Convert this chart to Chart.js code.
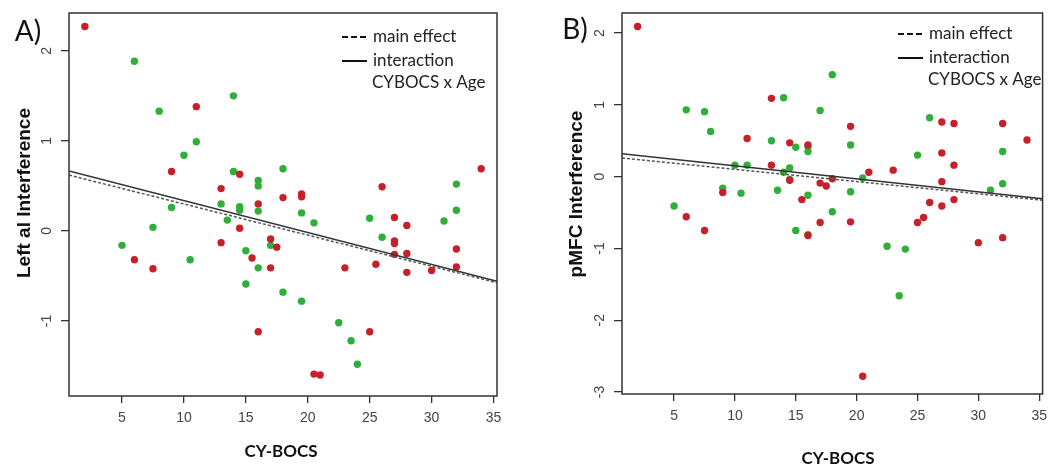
<!DOCTYPE html>
<html>
<head>
<meta charset="utf-8">
<script src="https://cdn.jsdelivr.net/npm/chart.js@4.4.1/dist/chart.umd.min.js"></script>
<style>
  html, body { margin: 0; padding: 0; background: #fff; }
  #wrap { position: relative; width: 1054px; height: 470px; }
  .panel { position: absolute; top: 0; width: 527px; height: 470px; }
</style>
</head>
<body>
<div id="wrap">
  <div class="panel" style="left:0"><canvas id="chartA"></canvas></div>
  <div class="panel" style="left:527px"><canvas id="chartB"></canvas></div>
</div>
<script>
// CY-BOCS axis (R pads the 2..34 data range by 4%)
const xRange = [0.72, 35.28];
const xTicks = [5, 10, 15, 20, 25, 30, 35];

// Panel A: Left al Interference
const aRange   = [-1.833, 2.42];
const aTicks   = [-1, 0, 1, 2];
const aRedX    = [2, 11, 9, 14.5, 13, 16, 14.5, 13, 6, 7.5, 15.5, 16, 17, 17.5, 17, 20.5, 21, 25, 23, 25.5, 27, 27, 27, 28, 28, 30, 32, 32, 18, 19.5, 19.5, 26, 27, 28, 34];
const aRedY    = [2.27, 1.38, 0.66, 0.63, 0.47, 0.30, 0.03, -0.13, -0.32, -0.42, -0.30, -1.12, -0.09, -0.18, -0.41, -1.59, -1.60, -1.12, -0.41, -0.37, -0.11, -0.14, -0.26, -0.25, -0.46, -0.44, -0.20, -0.40, 0.37, 0.41, 0.38, 0.49, 0.15, 0.06, 0.69];
const aGreenX  = [6, 8, 14, 11, 10, 14, 16, 16, 13, 9, 14.5, 14.5, 16, 13.5, 7.5, 5, 10.5, 15, 16, 15, 17, 18, 19.5, 22.5, 23.5, 24, 26, 18, 19.5, 20.5, 25, 32, 32, 31];
const aGreenY  = [1.885, 1.33, 1.50, 0.99, 0.84, 0.66, 0.56, 0.50, 0.30, 0.26, 0.27, 0.23, 0.22, 0.12, 0.04, -0.16, -0.32, -0.22, -0.41, -0.59, -0.16, -0.68, -0.78, -1.02, -1.22, -1.48, -0.07, 0.69, 0.20, 0.09, 0.14, 0.52, 0.23, 0.11];
const aMainY   = [0.62, -0.575];   // main effect line, at the x range ends
const aInterY  = [0.667, -0.56];   // interaction line

// Panel B: pMFC Interference
const bRange   = [-3.028, 2.279];
const bTicks   = [-3, -2, -1, 0, 1, 2];
const bRedX    = [2, 13, 11, 14.5, 13, 14.5, 9, 6, 7.5, 19.5, 16, 17, 17.5, 18, 15.5, 21, 17, 19.5, 16, 23, 27, 28, 27, 28, 27, 26, 27, 28, 25, 25.5, 32, 34, 32, 20.5, 30];
const bRedY    = [2.09, 1.09, 0.53, 0.47, 0.16, -0.05, -0.22, -0.56, -0.75, 0.70, 0.44, -0.09, -0.13, -0.03, -0.32, 0.06, -0.64, -0.63, -0.82, 0.09, 0.76, 0.74, 0.33, 0.16, -0.07, -0.36, -0.41, -0.32, -0.64, -0.57, 0.74, 0.51, -0.85, -2.78, -0.92];
const bGreenX  = [6, 7.5, 8, 14, 13, 15, 10, 11, 14.5, 14, 9, 10.5, 13.5, 5, 15, 18, 17, 19.5, 16, 16, 19.5, 20.5, 18, 25, 26, 31, 32, 32, 22.5, 24, 23.5, 14.5, 16, 16];
const bGreenY  = [0.93, 0.905, 0.63, 1.10, 0.50, 0.41, 0.16, 0.16, 0.12, 0.06, -0.16, -0.23, -0.19, -0.41, -0.75, 1.42, 0.92, 0.44, 0.35, -0.26, -0.21, -0.02, -0.49, 0.30, 0.82, -0.19, -0.10, 0.35, -0.97, -1.01, -1.66, -0.04, -0.81, 0.42];
const bMainY   = [0.26, -0.33];
const bInterY  = [0.32, -0.31];

const RED   = '#c8202a';
const GREEN = '#2fae3a';
const zip = (xs, ys) => xs.map((x, i) => ({ x, y: ys[i] }));

// box, rotated y tick labels, titles and the hand-made legend
const panelDecor = {
  id: 'panelDecor',
  afterDatasetsDraw(chart, args, o) {
    const { ctx, chartArea: a, scales: { y } } = chart;
    ctx.save();

    ctx.strokeStyle = '#333';
    ctx.lineWidth = 1.5;
    ctx.strokeRect(a.left, a.top, a.right - a.left, a.bottom - a.top);

    ctx.fillStyle = '#444';
    ctx.font = '14px "Liberation Sans", Arial, sans-serif';
    ctx.textAlign = 'center';
    ctx.textBaseline = 'middle';
    y.ticks.forEach(t => {
      ctx.save();
      ctx.translate(a.left - 22, y.getPixelForValue(t.value));
      ctx.rotate(-Math.PI / 2);
      ctx.fillText(String(t.value), 0, 0);
      ctx.restore();
    });

    // y title
    ctx.fillStyle = '#111';
    ctx.font = 'bold 19px "Liberation Sans", Arial, sans-serif';
    ctx.save();
    ctx.translate(o.yTitle[0], o.yTitle[1]);
    ctx.rotate(-Math.PI / 2);
    ctx.fillText(o.yTitleText, 0, 0);
    ctx.restore();

    // x title
    ctx.font = 'bold 17px Lato, "Open Sans", sans-serif';
    ctx.fillText('CY-BOCS', o.xTitle[0], o.xTitle[1]);

    // panel letter
    ctx.font = '28px Lato, "Open Sans", sans-serif';
    ctx.fillText(o.letter, o.letterPos[0], o.letterPos[1]);

    // legend
    const [lx, ly] = o.legend;
    ctx.strokeStyle = '#111';
    ctx.lineWidth = 2;
    ctx.setLineDash([6, 3]);
    ctx.beginPath(); ctx.moveTo(lx, ly); ctx.lineTo(lx + 26, ly); ctx.stroke();
    ctx.setLineDash([]);
    ctx.beginPath(); ctx.moveTo(lx, ly + 24); ctx.lineTo(lx + 25, ly + 24); ctx.stroke();
    ctx.fillStyle = '#222';
    ctx.font = '17px Lato, "Open Sans", sans-serif';
    ctx.textAlign = 'left';
    ctx.fillText('main effect', lx + 31, ly);
    ctx.fillText('interaction', lx + 31, ly + 24);
    ctx.fillText('CYBOCS x Age', lx + 30, ly + 46);

    ctx.restore();
  }
};

function makePanel(id, p) {
  return new Chart(document.getElementById(id), {
    type: 'scatter',
    data: {
      datasets: [
        {
          type: 'line', data: zip(xRange, p.interY), order: 0,
          borderColor: '#333', borderWidth: 1.5, pointRadius: 0, showLine: true,
        },
        {
          type: 'line', data: zip(xRange, p.mainY), order: 0,
          borderColor: '#555', borderWidth: 1.5, borderDash: [3, 2], pointRadius: 0, showLine: true,
        },
        {
          data: zip(p.redX, p.redY), order: 1,
          backgroundColor: RED, borderWidth: 0, pointRadius: 3.7,
        },
        {
          data: zip(p.greenX, p.greenY), order: 2,
          backgroundColor: GREEN, borderWidth: 0, pointRadius: 3.7,
        },
      ],
    },
    options: {
      responsive: true,
      maintainAspectRatio: false,
      animation: false,
      events: [],
      layout: { padding: { top: 13, right: p.padRight, left: 0, bottom: 0 } },
      plugins: {
        legend: { display: false },
        tooltip: { enabled: false },
        panelDecor: p.decor,
      },
      scales: {
        x: {
          type: 'linear',
          min: xRange[0], max: xRange[1],
          afterBuildTicks: s => { s.ticks = xTicks.map(v => ({ value: v })); },
          afterFit: s => { s.height = p.xHeight; },
          border: { display: false },
          grid: { drawOnChartArea: false, drawTicks: true, tickLength: 7, color: '#333', lineWidth: 1.3 },
          ticks: { color: '#444', padding: 7, font: { family: '"Liberation Sans", Arial, sans-serif', size: 14 } },
        },
        y: {
          type: 'linear',
          min: p.range[0], max: p.range[1],
          afterBuildTicks: s => { s.ticks = p.ticks.map(v => ({ value: v })); },
          afterFit: s => { s.width = p.yWidth; },
          border: { display: false },
          grid: { drawOnChartArea: false, drawTicks: true, tickLength: 8, color: '#333', lineWidth: 1.3 },
          ticks: { display: false },
        },
      },
    },
    plugins: [panelDecor],
  });
}

makePanel('chartA', {
  range: aRange, ticks: aTicks,
  redX: aRedX, redY: aRedY, greenX: aGreenX, greenY: aGreenY,
  mainY: aMainY, interY: aInterY,
  padRight: 30, yWidth: 69, xHeight: 74,
  decor: {
    yTitleText: 'Left al Interference', yTitle: [25, 193],
    xTitle: [281, 452], letter: 'A)', letterPos: [28, 32], legend: [342, 37],
  },
});

makePanel('chartB', {
  range: bRange, ticks: bTicks,
  redX: bRedX, redY: bRedY, greenX: bGreenX, greenY: bGreenY,
  mainY: bMainY, interY: bInterY,
  padRight: 3, yWidth: 95, xHeight: 76,
  decor: {
    yTitleText: 'pMFC Interference', yTitle: [50, 194],
    xTitle: [311, 459], letter: 'B)', letterPos: [48, 30], legend: [371, 34],
  },
});
</script>
</body>
</html>
